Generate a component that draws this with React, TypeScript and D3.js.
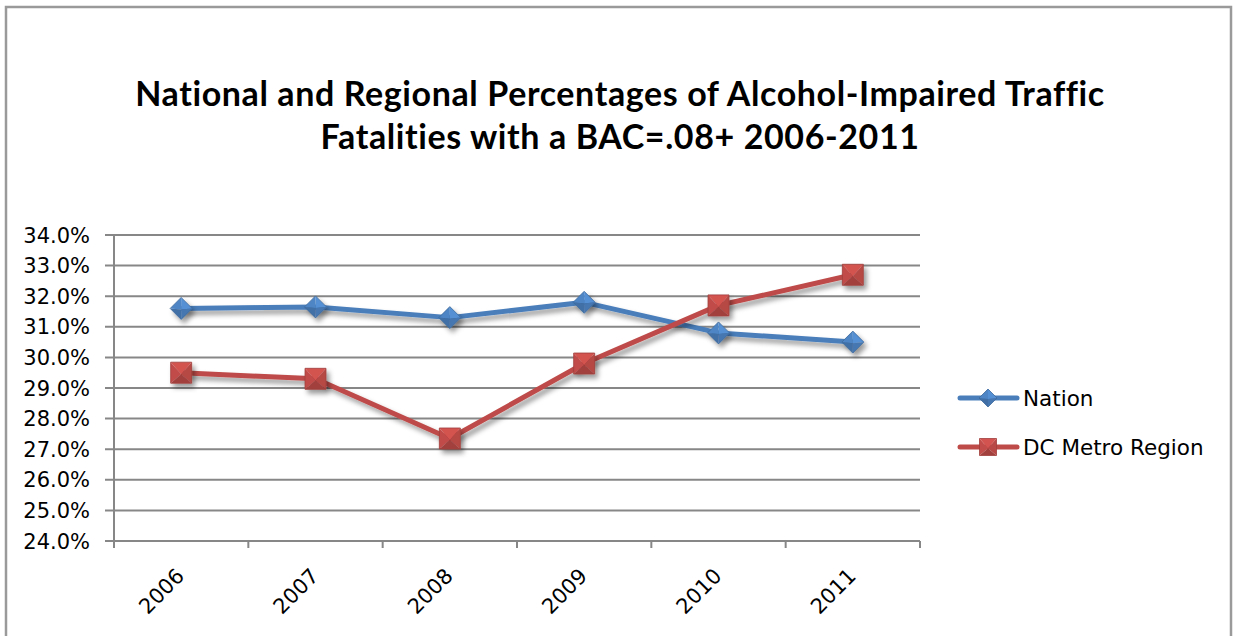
import React from "react";
import * as d3 from "d3";

const years = ["2006", "2007", "2008", "2009", "2010", "2011"];
const nation = [31.6, 31.65, 31.3, 31.8, 30.8, 30.5];
const dcMetro = [29.5, 29.3, 27.35, 29.8, 31.7, 32.7];
const yTicks = [24, 25, 26, 27, 28, 29, 30, 31, 32, 33, 34];
const titleLines = [
  "National and Regional Percentages of Alcohol-Impaired Traffic",
  "Fatalities with a BAC=.08+ 2006-2011",
];
const seriesNames = ["Nation", "DC Metro Region"];

const W = 1233;
const H = 636;
const plot = { left: 114, right: 920, top: 235, bottom: 541 };

const BLUE = "#4a7ebb";
const RED = "#be4b48";
const GRID = "#878787";

function shade(c: string, k: number) {
  const col = d3.color(c)!;
  return k > 0 ? col.brighter(k).formatHex() : col.darker(-k).formatHex();
}

function Diamond({ x, y, r, color }: { x: number; y: number; r: number; color: string }) {
  const t = [x, y - r], b = [x, y + r], l = [x - r, y], rr = [x + r, y];
  const c = [x, y + r * 0.1];
  const p = (pts: number[][]) => pts.map((q) => q.join(",")).join(" ");
  return (
    <g>
      <polygon points={p([t, rr, c])} fill={shade(color, 0.35)} />
      <polygon points={p([t, l, c])} fill={shade(color, 0.15)} />
      <polygon points={p([l, b, c])} fill={shade(color, -0.35)} />
      <polygon points={p([rr, b, c])} fill={shade(color, -0.15)} />
      <polygon points={p([t, rr, b, l])} fill="none" stroke={shade(color, -0.5)} strokeWidth={0.8} />
    </g>
  );
}

function Square({ x, y, r, color }: { x: number; y: number; r: number; color: string }) {
  const tl = [x - r, y - r], tr = [x + r, y - r], bl = [x - r, y + r], br = [x + r, y + r];
  const c = [x, y + r * 0.15];
  const p = (pts: number[][]) => pts.map((q) => q.join(",")).join(" ");
  return (
    <g>
      <polygon points={p([tl, tr, c])} fill={shade(color, 0.3)} />
      <polygon points={p([tl, bl, c])} fill={shade(color, 0.05)} />
      <polygon points={p([tr, br, c])} fill={shade(color, -0.1)} />
      <polygon points={p([bl, br, c])} fill={shade(color, -0.45)} />
      <polygon points={p([tl, tr, br, bl])} fill="none" stroke={shade(color, -0.5)} strokeWidth={0.8} />
    </g>
  );
}

export default function App() {
  const x = d3.scaleBand<string>().domain(years).range([plot.left, plot.right]);
  const y = d3.scaleLinear().domain([24, 34]).range([plot.bottom, plot.top]);
  const cx = (yr: string) => (x(yr) as number) + x.bandwidth() / 2;

  const line = d3
    .line<number>()
    .x((_, i) => cx(years[i]))
    .y((v) => y(v));

  const series = [
    { name: seriesNames[0], values: nation, color: BLUE, kind: "diamond" },
    { name: seriesNames[1], values: dcMetro, color: RED, kind: "square" },
  ];

  const tickFont = "'DejaVu Sans', Verdana, sans-serif";
  const xTickPositions = [...years.map((yr) => x(yr) as number), plot.right];

  return (
    <svg
      width={W}
      height={H}
      style={{ position: "absolute", left: 0, top: 0, background: "#fff" }}
    >
      <defs>
        <filter id="shadow" x="-10%" y="-10%" width="130%" height="140%">
          <feDropShadow dx={3} dy={4} stdDeviation={2.5} floodColor="#000" floodOpacity={0.4} />
        </filter>
      </defs>
      <rect x={0} y={0} width={W} height={H} fill="#fff" />
      <rect x={6} y={7} width={1225} height={H + 20} fill="none" stroke="#9a9a9a" strokeWidth={2.5} />

      {titleLines.map((t, i) => (
        <text
          key={i}
          x={620}
          y={106 + i * 43}
          textAnchor="middle"
          fontFamily="Lato, 'Open Sans', sans-serif"
          fontWeight={700}
          fontSize={34}
          letterSpacing={0.6}
          fill="#000"
        >
          {t}
        </text>
      ))}

      {/* gridlines */}
      {yTicks.map((v) => (
        <g key={v}>
          <line x1={plot.left - 9} x2={plot.right} y1={y(v)} y2={y(v)} stroke={GRID} strokeWidth={2} />
          <text
            x={90}
            y={y(v)}
            dy="0.36em"
            textAnchor="end"
            fontFamily={tickFont}
            fontSize={21}
            fill="#000"
          >
            {v.toFixed(1) + "%"}
          </text>
        </g>
      ))}
      {/* axes */}
      <line x1={plot.left} x2={plot.left} y1={plot.top} y2={plot.bottom + 7} stroke={GRID} strokeWidth={2} />
      {xTickPositions.map((p, i) => (
        <line key={i} x1={p} x2={p} y1={plot.bottom} y2={plot.bottom + 7} stroke={GRID} strokeWidth={2} />
      ))}
      {years.map((yr) => (
        <text
          key={yr}
          transform={`translate(${cx(yr) - 1},${plot.bottom + 31}) rotate(-45)`}
          textAnchor="end"
          dy="0.36em"
          fontFamily={tickFont}
          fontSize={21}
          fill="#000"
        >
          {yr}
        </text>
      ))}

      {/* series */}
      {series.map((s) => (
        <g key={s.name} filter="url(#shadow)">
          <path d={line(s.values) || ""} fill="none" stroke={s.color} strokeWidth={5} strokeLinejoin="round" />
        </g>
      ))}
      {series.map((s) => (
        <g key={s.name + "m"} filter="url(#shadow)">
          {s.values.map((v, i) =>
            s.kind === "diamond" ? (
              <Diamond key={i} x={cx(years[i])} y={y(v)} r={11} color={s.color} />
            ) : (
              <Square key={i} x={cx(years[i])} y={y(v)} r={10.5} color={s.color} />
            )
          )}
        </g>
      ))}

      {/* legend */}
      {series.map((s, i) => {
        const ly = 398 + i * 49;
        return (
          <g key={s.name + "l"}>
            <line x1={960} x2={1017} y1={ly} y2={ly} stroke={s.color} strokeWidth={5} strokeLinecap="round" />
            {s.kind === "diamond" ? (
              <Diamond x={988} y={ly} r={9} color={s.color} />
            ) : (
              <Square x={988} y={ly} r={8.5} color={s.color} />
            )}
            <text
              x={1023}
              y={ly}
              dy="0.36em"
              fontFamily={tickFont}
              fontSize={21.5}
              fill="#000"
            >
              {s.name}
            </text>
          </g>
        );
      })}
    </svg>
  );
}
